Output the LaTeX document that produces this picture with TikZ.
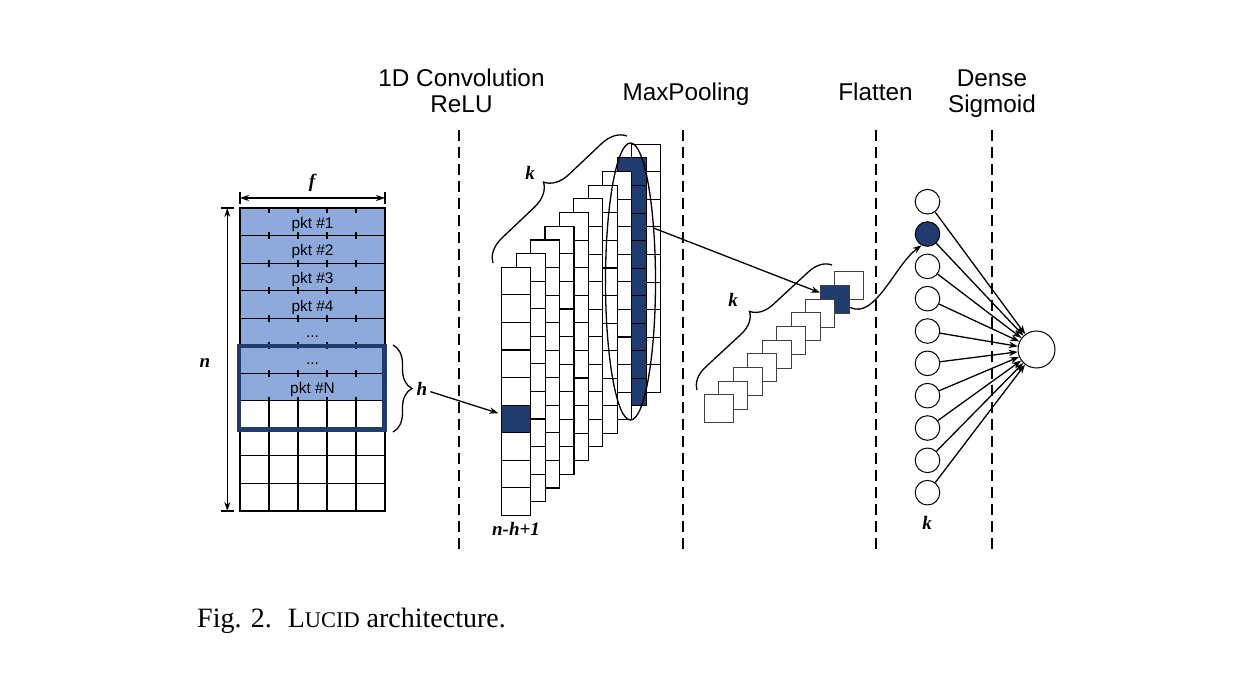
\documentclass[tikz,border=0pt]{standalone}
\usepackage{fontspec}
\setmainfont{Liberation Serif}
\newfontfamily\arialf{Liberation Sans}
\usetikzlibrary{arrows.meta,shapes.geometric,decorations.pathreplacing}
\definecolor{pktblue}{RGB}{142,170,219}
\definecolor{darkblue}{RGB}{32,60,110}
\begin{document}
\begin{tikzpicture}[x=1pt,y=-1pt,
  hdr/.style={font=\arialf\fontsize{24.3}{29}\selectfont, inner sep=0pt, anchor=base},
  pkt/.style={font=\arialf\fontsize{15.4}{18}\selectfont, inner sep=0pt, anchor=base},
  lbl/.style={font=\bfseries\itshape\fontsize{19}{22}\selectfont, inner sep=0pt},
  gridline/.style={draw=black, line width=1.1pt},
  sepline/.style={line width=2pt, dash pattern=on 11pt off 6pt},
  conn/.style={line width=1.3pt, -{Stealth[length=9pt,width=6.5pt]}},
  dimarrow/.style={line width=1.1pt, {Stealth[length=9pt,width=6pt]}-{Stealth[length=9pt,width=6pt]}},
  neuron/.style={circle, draw=black, line width=1pt, minimum size=24.6pt, inner sep=0pt},
  fsq/.style={draw=black!75, line width=1pt, minimum width=29pt, minimum height=28pt, inner sep=0pt},
  bracek/.style={decorate, decoration={brace, amplitude=#1}, line width=1.3pt},
]
\useasboundingbox (0,0) rectangle (1240,684);

% ---------- headers ----------
\node[hdr] (h1a) at (461.5,86.7) {1D Convolution};
\node[hdr] (h1b) at (461.5,112.5) {ReLU};
\node[hdr] (h2) at (686,100.3) {MaxPooling};
\node[hdr] (h3) at (875.5,100.3) {Flatten};
\node[hdr] (h4a) at (992,86.7) {Dense};
\node[hdr] (h4b) at (992,112.5) {Sigmoid};

% ---------- separators ----------
\draw[sepline] (459,130) -- (459,552);
\draw[sepline] (683,130) -- (683,552);
\draw[sepline] (875.5,130) -- (875.5,552);
\draw[sepline] (991.7,130) -- (991.7,552);

% ---------- input matrix ----------
\fill[pktblue] (240,208) rectangle (385,401);
\foreach \r in {1,...,10} \draw[gridline] (240,{208+\r*27.545}) -- (385,{208+\r*27.545});
\foreach \c in {1,...,4} {
  \draw[gridline] ({240+\c*29},208) -- ({240+\c*29},213);
  \foreach \r in {1,...,6} \draw[gridline] ({240+\c*29},{208+\r*27.545-3.5}) -- ({240+\c*29},{208+\r*27.545+3.5});
  \draw[gridline] ({240+\c*29},397) -- ({240+\c*29},511);
}
\draw[gridline] (240,208) rectangle (385,511);
\node[pkt] (p1) at (312.5,228.5) {pkt \#1};
\node[pkt] (p2) at (312.5,256) {pkt \#2};
\node[pkt] (p3) at (312.5,283.6) {pkt \#3};
\node[pkt] (p4) at (312.5,311.1) {pkt \#4};
\node[pkt] (p5) at (312.5,338) {...};
\node[pkt] (p6) at (312.5,364.5) {...};
\node[pkt] (pN) at (312.5,393.8) {pkt \#N};
\draw[darkblue, line width=4.5pt] (239,346.2) rectangle (384.5,429.5);

% dimensions
\coordinate (fa) at (240,198);
\coordinate (fb) at (385,198);
\draw[dimarrow] (fa) -- (fb);
\draw[line width=1.1pt] (240,192) -- (240,204);
\draw[line width=1.1pt] (385,192) -- (385,204);
\node[lbl] (fl) at (312,183) {f};
\coordinate (na) at (227.3,208);
\coordinate (nb) at (227.3,511);
\draw[dimarrow] (na) -- (nb);
\draw[line width=1.1pt] (221,208) -- (233.5,208);
\draw[line width=1.1pt] (221,511) -- (233.5,511);
\node[lbl] (nl) at (205,363) {n};

% h brace
\draw[bracek=19] (393,345) -- (393,432);
\node[lbl] (hl) at (422,389) {h};

% ---------- convolution stack ----------
\foreach \j in {10,9,...,1} {
  \ifnum\j=9 \def\fc{darkblue}\else\def\fc{white}\fi
  \pgfmathsetmacro\xx{501.7+(\j-1)*14.44}
  \pgfmathsetmacro\yy{267.3-(\j-1)*13.67}
  \filldraw[fill=\fc, draw=black, line width=1.1pt] (\xx,\yy) rectangle ++(29,248);
  \foreach \r in {1,...,8} \draw[gridline] (\xx,{\yy+\r*27.56}) -- ++(29,0);
}
\node[fill=darkblue, draw=black, line width=1.1pt, minimum width=29pt, minimum height=27.56pt, inner sep=0pt] (cd) at (516.2,418.9) {};
\node[ellipse, draw=black, line width=1.3pt, minimum width=50pt, minimum height=277pt, inner sep=0pt] (el) at (630.5,281.5) {};
\node[lbl] (nh1) at (516,529) {n-h+1};
\draw[bracek=24] (493,263) -- (627,136);
\node[lbl] (k1) at (530,173) {k};
\draw[conn, shorten <=3pt, shorten >=3pt] (hl) -- (cd);

% ---------- flatten ----------
\foreach \j in {10,9,...,1} {
  \ifnum\j=9 \def\fc{darkblue}\else\def\fc{white}\fi
  \node[fsq, fill=\fc] (fq\j) at ({718.8+(\j-1)*14.52},{409-(\j-1)*13.7}) {};
}
\draw[bracek=22] (697,390) -- (832,265);
\node[lbl] (k2) at (733,300) {k};
\draw[conn] (el.66) -- (fq9.156);

% ---------- dense ----------
\foreach \i in {1,...,10} {
  \ifnum\i=2 \def\fc{darkblue}\else\def\fc{white}\fi
  \node[neuron, fill=\fc] (d\i) at (927.5,{201.7+(\i-1)*32.33}) {};
}
\node[neuron, minimum size=37pt] (out) at (1036.5,349.5) {};
\foreach \i in {1,...,10} \draw[conn] (d\i) -- (out);
\draw[conn] (fq9.-28) .. controls (875,320) and (895,265) .. (d2.-118);
\node[lbl] (k3) at (927,523) {k};

% ---------- caption ----------
\node[anchor=base west, inner sep=0pt, font=\fontsize{28}{32}\selectfont] (cap) at (197,627)
  {Fig. 2.\hspace{16pt}L{\fontsize{22.4}{26}\selectfont UCID} architecture.};
\end{tikzpicture}
\end{document}
